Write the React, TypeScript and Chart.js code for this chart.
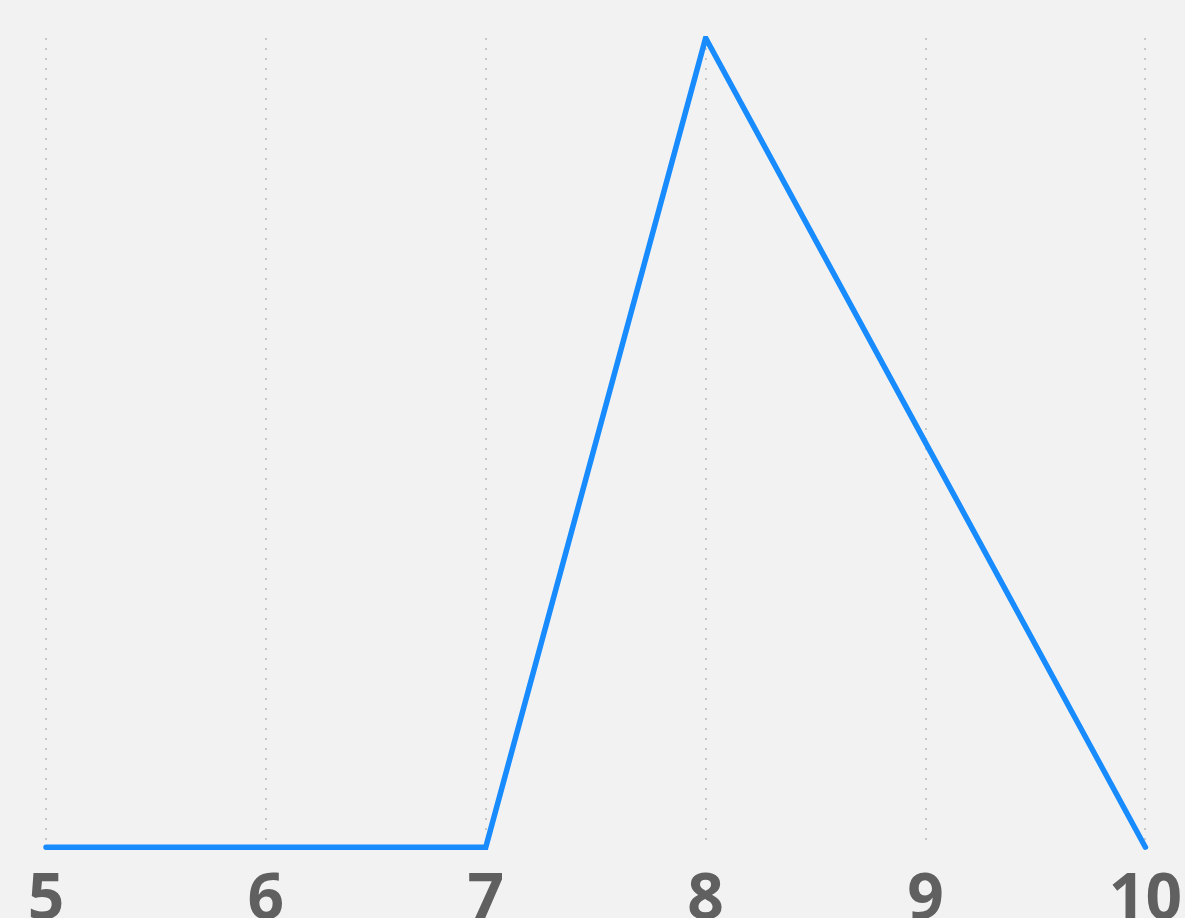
import React, { useEffect, useRef } from "react";
import { Chart, registerables } from "chart.js";

Chart.register(...registerables);

const categories = ["5", "6", "7", "8", "9", "10"];
const seriesValues = [0, 0, 0, 2, 1, 0];

const W = 1197;
const H = 954;

export default function App() {
  const ref = useRef<HTMLCanvasElement | null>(null);
  useEffect(() => {
    document.body.style.margin = "0";
    document.body.style.overflow = "hidden";
    document.body.style.background = "#f2f2f2";
    const chart = new Chart(ref.current!, {
      type: "line",
      data: {
        labels: categories,
        datasets: [
          {
            data: seriesValues,
            borderColor: "#188cff",
            borderWidth: 5.5,
            pointRadius: 0,
            borderCapStyle: "round",
            borderJoinStyle: "miter",
            tension: 0,
            clip: { left: false, right: false, bottom: false, top: 2 } as any,
          },
        ],
      },
      options: {
        animation: false,
        responsive: false,
        maintainAspectRatio: false,
        layout: { padding: { top: 38, left: 46, right: 40, bottom: 0 } },
        plugins: { legend: { display: false }, tooltip: { enabled: false } },
        scales: {
          x: {
            offset: false,
            grid: { color: "#c8c8c8", lineWidth: 2, drawTicks: false },
            border: { display: false, dash: [2, 8] },
            ticks: {
              padding: 15,
              color: "#606060",
              font: { family: "'Open Sans'", size: 64, weight: "bold" },
              maxRotation: 0,
              autoSkip: false,
            },
          },
          y: { display: false, min: 0, max: 2 },
        },
      },
    });
    return () => chart.destroy();
  }, []);
  return (
    <div style={{ position: "fixed", left: 0, top: 0, width: 1185, height: 918, overflow: "hidden", background: "#f2f2f2" }}>
      <canvas ref={ref} width={W} height={H} style={{ width: W, height: H, display: "block" }} />
    </div>
  );
}
